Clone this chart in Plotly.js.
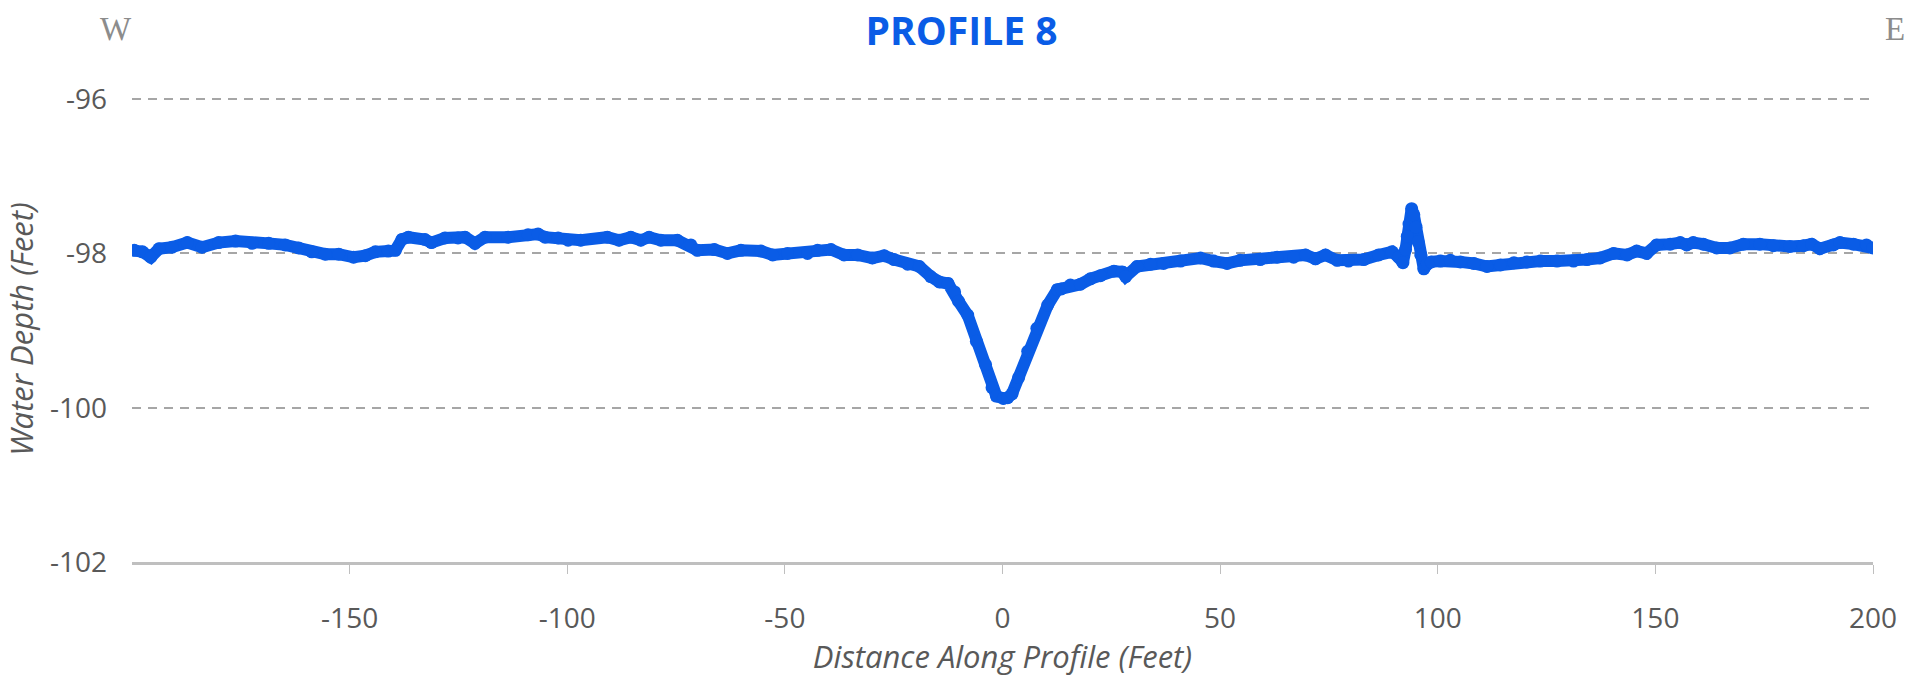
<!DOCTYPE html>
<html>
<head>
<meta charset="utf-8">
<script src="https://cdn.plot.ly/plotly-3.0.1.min.js"></script>
<style>html,body{margin:0;padding:0;background:#fff;}#chart{width:1923px;height:677px;}</style>
</head>
<body>
<div id="chart"></div>
<script>
// Distance along profile (feet)
const distance = [
  -199.5,-197.6,-195.7,-193.8,-190.8,-187.3,-183.9,-180.1,-176.2,-172.4,
  -168.6,-164.8,-161.7,-158.7,-155.6,-152.5,-149.1,-146.4,-144.1,-141.1,
  -139.5,-138.0,-136.5,-132.7,-131.2,-128.1,-125.1,-123.5,-121.2,-118.9,
  -113.6,-109.0,-106.7,-105.1,-102.1,-99.8,-96.9,-90.8,-88.1,-85.4,
  -83.1,-81.2,-78.5,-74.7,-71.6,-70.1,-66.2,-63.2,-60.1,-55.5,
  -52.8,-49.4,-44.8,-42.5,-39.4,-36.4,-33.3,-29.9,-27.2,-24.9,
  -21.8,-19.1,-16.5,-14.5,-12.5,-11.0,-10.1,-8.0,-6.0,-3.9,
  -2.4,-1.4,0.2,1.2,2.2,3.7,5.8,7.9,10.4,12.6,
  13.5,15.6,17.9,20.2,22.5,25.6,27.5,28.3,30.9,34.0,
  37.0,40.9,45.5,48.5,51.6,54.6,59.2,63.1,66.9,69.6,
  71.9,74.2,76.9,79.5,83.0,86.4,89.5,91.0,92.0,92.6,
  93.0,93.4,94.0,94.5,95.0,95.5,96.1,96.8,97.6,98.5,
  100.6,102.9,105.2,108.3,111.3,114.4,117.5,120.5,123.6,127.4,
  131.2,134.3,137.3,140.4,143.5,145.7,148.0,150.3,153.4,155.7,
  157.2,158.7,161.0,164.1,167.1,170.2,174.0,177.1,180.9,184.0,
  185.9,187.8,190.9,192.4,195.5,198.5,200.0
];
// Water depth (feet)
const depth = [
  -97.96,-97.98,-98.05,-97.94,-97.92,-97.86,-97.92,-97.86,-97.84,-97.87,
  -97.87,-97.89,-97.93,-97.98,-98.01,-98.01,-98.05,-98.03,-97.98,-97.97,
  -97.96,-97.82,-97.79,-97.82,-97.86,-97.80,-97.80,-97.79,-97.87,-97.79,
  -97.79,-97.76,-97.75,-97.79,-97.80,-97.83,-97.83,-97.79,-97.83,-97.79,
  -97.83,-97.79,-97.83,-97.83,-97.89,-97.96,-97.95,-98.00,-97.96,-97.97,
  -98.02,-98.00,-98.00,-97.96,-97.95,-98.02,-98.02,-98.06,-98.03,-98.08,
  -98.14,-98.17,-98.30,-98.37,-98.39,-98.50,-98.62,-98.80,-99.14,-99.44,
  -99.74,-99.85,-99.88,-99.87,-99.82,-99.61,-99.27,-98.97,-98.67,-98.47,
  -98.46,-98.41,-98.40,-98.33,-98.29,-98.23,-98.24,-98.30,-98.17,-98.14,
  -98.13,-98.10,-98.06,-98.10,-98.13,-98.09,-98.08,-98.05,-98.05,-98.02,
  -98.07,-98.02,-98.09,-98.10,-98.08,-98.02,-97.98,-98.05,-98.12,-97.95,
  -97.78,-97.62,-97.42,-97.50,-97.66,-97.85,-98.02,-98.20,-98.14,-98.11,
  -98.10,-98.09,-98.11,-98.13,-98.17,-98.15,-98.12,-98.11,-98.10,-98.10,
  -98.10,-98.08,-98.06,-98.00,-98.02,-97.97,-98.00,-97.89,-97.88,-97.86,
  -97.89,-97.86,-97.88,-97.93,-97.93,-97.88,-97.88,-97.90,-97.91,-97.90,
  -97.88,-97.94,-97.89,-97.86,-97.88,-97.89,-97.93
];
const xTicks = [-150,-100,-50,0,50,100,150,200];
const yTicks = [-102,-100,-98,-96];
const chartTitle = "PROFILE 8";
const westLabel = "W";
const eastLabel = "E";

const blue = '#0a5ce6';
const tickFont = {family: '"Open Sans", "Noto Sans", sans-serif', size: 28, color: '#595959'};
const titleFont = {family: '"Open Sans", "Noto Sans", sans-serif', size: 31, color: '#595959', style: 'italic'};

const trace = {
  x: distance, y: depth, type: 'scatter', mode: 'lines+markers',
  line: {color: blue, width: 12},
  marker: {color: blue, size: 13},
  hoverinfo: 'x+y', showlegend: false
};

const layout = {
  width: 1923, height: 677,
  paper_bgcolor: '#ffffff', plot_bgcolor: '#ffffff',
  margin: {l: 132, r: 50, t: 96, b: 115},
  title: {
    text: chartTitle,
    font: {family: '"Open Sans", "Noto Sans", sans-serif', size: 39, color: blue, weight: 700},
    x: 0.5, xref: 'container', xanchor: 'center',
    y: 1 - 31/677, yref: 'container', yanchor: 'middle'
  },
  xaxis: {
    range: [-200, 200], tickvals: xTicks, ticktext: xTicks.map(String),
    showgrid: false, zeroline: false,
    showline: true, linecolor: '#bfbfbf', linewidth: 3,
    ticks: 'outside', ticklen: 9, tickwidth: 1, tickcolor: '#bfbfbf',
    ticklabelstandoff: 20,
    tickfont: tickFont,
    title: {text: 'Distance Along Profile (Feet)', font: titleFont, standoff: 17}
  },
  yaxis: {
    range: [-102, -95.96], tickvals: yTicks, ticktext: yTicks.map(String),
    showgrid: true, gridcolor: '#a6a6a6', gridwidth: 2, griddash: '9px,7px',
    zeroline: false, showline: false, ticks: '',
    ticklabelstandoff: 24,
    tickfont: tickFont,
    title: {text: 'Water Depth (Feet)', font: titleFont, standoff: 10}
  },
  annotations: [
    {text: westLabel, xref: 'paper', yref: 'paper', x: (116-132)/1741, y: 1 + (96-29)/466,
     xanchor: 'center', yanchor: 'middle', showarrow: false,
     font: {family: '"Liberation Serif", "DejaVu Serif", serif', size: 33, color: '#8c8c8c'}},
    {text: eastLabel, xref: 'paper', yref: 'paper', x: (1895-132)/1741, y: 1 + (96-29)/466,
     xanchor: 'center', yanchor: 'middle', showarrow: false,
     font: {family: '"Liberation Serif", "DejaVu Serif", serif', size: 33, color: '#8c8c8c'}}
  ]
};

Plotly.newPlot('chart', [trace], layout, {displayModeBar: false});
</script>
</body>
</html>
